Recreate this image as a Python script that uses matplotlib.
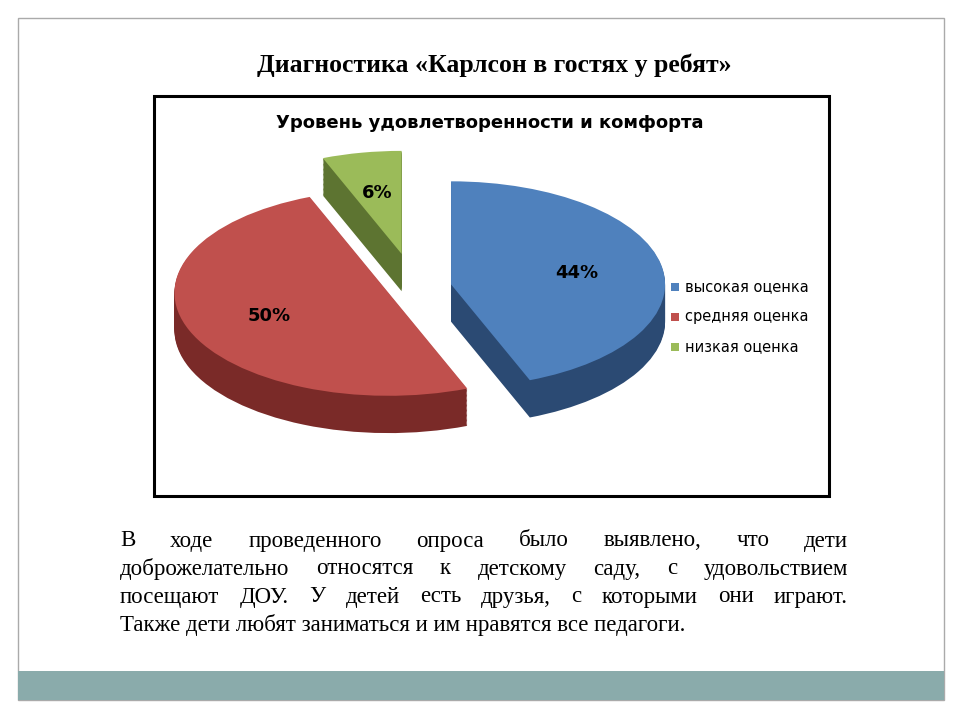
import matplotlib
matplotlib.use("Agg")
import matplotlib.pyplot as plt
from matplotlib.patches import Rectangle
import numpy as np

categories = ["высокая оценка", "средняя оценка", "низкая оценка"]
values = [44, 50, 6]
colors = ["#4F81BD", "#C0504D", "#9BBB59"]
dark = ["#2B4a73", "#7a2a28", "#5d7431"]
explode = [0.18, 0.14, 0.35]

fig = plt.figure(figsize=(9.6, 7.2), dpi=100)
W, H = 960, 720
def fx(x): return x / W
def fy(y): return 1 - y / H

fig.add_artist(Rectangle((fx(18), fy(700)), fx(944) - fx(18), fy(18) - fy(700),
                         transform=fig.transFigure, fill=False, ec="#aaaaaa", lw=1))
fig.add_artist(Rectangle((fx(18), fy(700)), fx(944) - fx(18), fy(671) - fy(700),
                         transform=fig.transFigure, fc="#8AABAB", ec="none"))
fig.text(fx(494), fy(65), "Диагностика «Карлсон в гостях у ребят»", ha="center", va="center",
         fontsize=18.5, fontweight="bold", family="Liberation Serif")
fig.add_artist(Rectangle((fx(154), fy(496)), fx(829) - fx(154), fy(96) - fy(496),
                         transform=fig.transFigure, fill=False, ec="black", lw=2.2))
fig.text(fx(490), fy(123), "Уровень удовлетворенности и комфорта", ha="center", va="center",
         fontsize=13, fontweight="bold", family="DejaVu Sans")

ax = fig.add_axes([fx(150), fy(430), (680 - 150) / W, (430 - 165) / H])
ax.axis("off")
R = 1.05
for d in np.linspace(0.38, 0.01, 30):
    ax.pie(values, colors=dark, explode=explode, startangle=90, counterclock=False,
           radius=R, center=(0, -d), wedgeprops=dict(lw=0))
ax.pie(values, colors=colors, explode=explode, startangle=90, counterclock=False,
       radius=R, autopct="%1.0f%%", pctdistance=0.6,
       textprops=dict(fontsize=13, fontweight="bold", color="black"),
       wedgeprops=dict(lw=0))
ax.set_aspect("auto")
ax.set_xlim(-1.3, 1.3)
ax.set_ylim(-1.45, 1.25)

for i, (c, col) in enumerate(zip(categories, colors)):
    y = 287 + i * 30
    fig.add_artist(Rectangle((fx(671), fy(y + 4)), 8 / W, 8 / H, transform=fig.transFigure,
                             fc=col, ec="none"))
    fig.text(fx(685), fy(y), c, va="center", ha="left", fontsize=10.5, family="DejaVu Sans")

lines = ["В ходе  проведенного опроса было выявлено, что дети",
         "доброжелательно относятся к детскому саду, с удовольствием",
         "посещают ДОУ. У детей есть друзья, с которыми они играют.",
         "Также дети любят заниматься и им нравятся все педагоги."]
renderer = fig.canvas.get_renderer()
x0, x1 = 120, 848
for i, l in enumerate(lines):
    y = fy(541 + i * 28)
    kw = dict(va="center", ha="left", fontsize=16.5, family="Liberation Serif")
    if i == len(lines) - 1:
        fig.text(fx(x0), y, l, **kw)
        continue
    words = l.split()
    ts = [fig.text(0, y, w, **kw) for w in words]
    widths = [t.get_window_extent(renderer).width for t in ts]
    gap = (x1 - x0 - sum(widths)) / (len(words) - 1)
    x = x0
    for t, w in zip(ts, widths):
        t.set_x(fx(x))
        x += w + gap

fig.savefig("out.png", dpi=100)
